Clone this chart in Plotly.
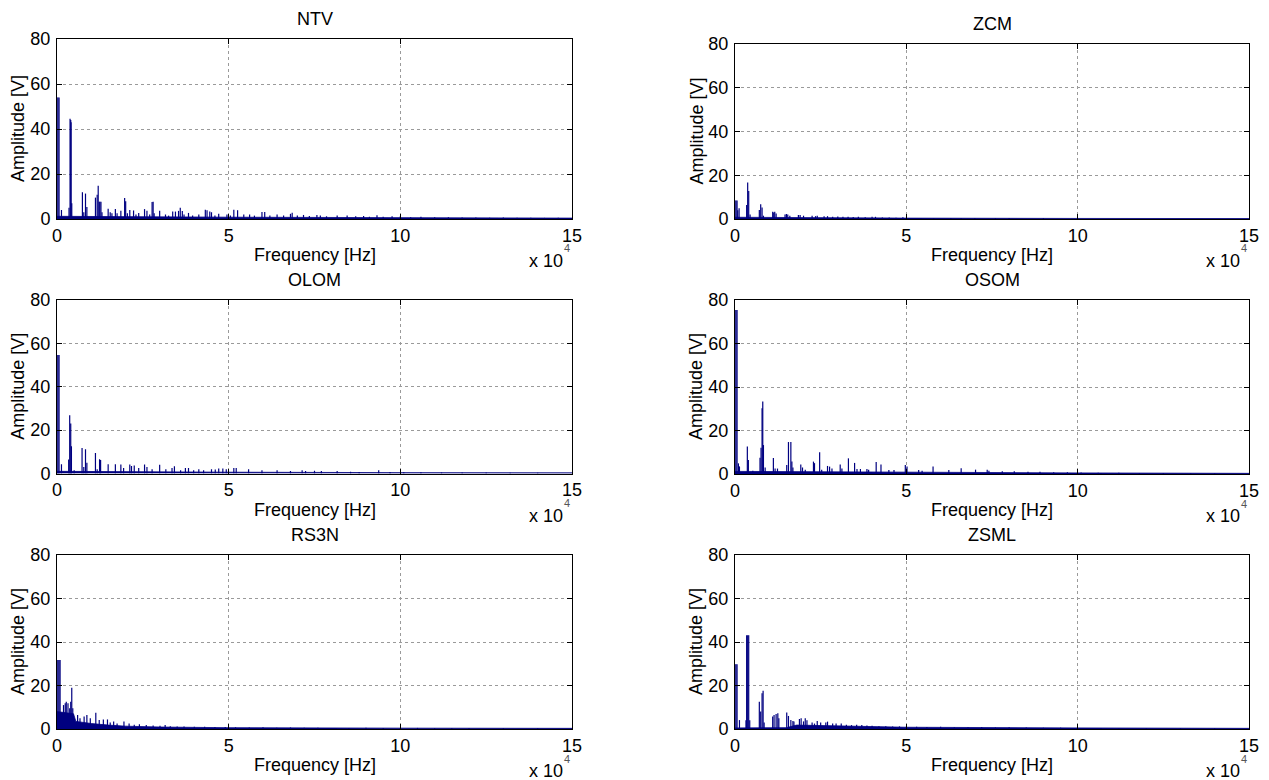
import plotly.graph_objects as go

# ---------------------------------------------------------------------------
# Amplitude spectra of six signals: spectral lines (Hz, V) plus the level of
# the broadband floor under them.
# ---------------------------------------------------------------------------
panel_names = ["NTV", "ZCM", "OLOM", "OSOM", "RS3N", "ZSML"]

ntv_freq = [0, 300, 600, 1300, 3500, 3800, 4000, 4100, 4300, 7400, 7800, 8300, 8700,
            11200, 11700, 12000, 12300, 12500, 12800, 13100, 14900, 15500, 16000, 17000,
            17500, 18600, 19700, 20000, 20500, 21200, 22300, 23000, 23800, 25500, 26200,
            27000, 27700, 28000, 28300, 29900, 31600, 32500, 33700, 34500, 35400, 35900,
            36500, 37000, 38300, 39500, 41300, 43200, 43700, 44500, 45000, 46000, 47100,
            49500, 50500, 51500, 52600, 54400, 56100, 57500, 59700, 60500, 62000, 64100,
            66000, 68000, 68500, 70000, 71800, 73500, 75700, 76700, 78500, 81600, 84500,
            87000, 89300, 91000, 93200, 95000, 97600, 100000, 103000, 106000, 110000,
            114000, 118000, 122000, 126000, 130000, 134000, 138000, 142000, 146000]
ntv_amp = [54, 54, 54, 4, 5, 44.6, 44, 43, 7, 11.9, 3, 11.3, 5.3,
           9.5, 10.8, 14.8, 7.7, 7.7, 7.7, 3, 4.6, 3, 2.5, 4.4,
           2.5, 3.7, 9.3, 7.9, 2.5, 4, 3.8, 2, 2.7, 4.4, 3.7,
           2, 7.6, 7.7, 2.5, 3.7, 2, 1.5, 3.3, 3.3, 3.6, 5.0,
           3.6, 2, 2.7, 1.5, 2, 4.1, 3.9, 3.3, 3, 1.5, 2.3,
           2, 1.5, 4.1, 3.9, 2, 2, 1.5, 3.1, 3.1, 1.5, 2,
           1.5, 2.3, 2.8, 1.5, 1.8, 1.3, 1.8, 1.5, 1.2, 1.5, 1.5,
           1.2, 1.3, 1.0, 1.7, 1.0, 1.2, 1.2, 0.8, 1.0, 0.8,
           0.8, 0.7, 0.7, 0.6, 0.7, 0.6, 0.6, 0.5, 0.6]
ntv_floor_freq = [0, 20000, 50000, 100000, 150000]
ntv_floor_amp = [1.2, 1.0, 0.8, 0.6, 0.4]

zcm_freq = [0, 300, 600, 800, 1200, 3400, 3700, 4000, 4400, 7100, 7500, 7900, 8300,
            11000, 11300, 11600, 12000, 14600, 15000, 15400, 16000, 18500, 19000, 20000,
            22500, 23500, 24000, 26000, 27000, 28500, 30000, 31500, 33000, 34500, 36000,
            38000, 40000, 41000, 43000, 45000, 47000, 49000, 53000, 58000, 63000, 66000,
            70000, 76000, 80000, 90000, 100000]
zcm_amp = [8.5, 8.5, 8.5, 4, 4.9, 6.4, 16.7, 12.8, 2, 4.1, 6.7, 5.2, 1.5,
           3.3, 3.0, 3.3, 2.5, 2.1, 2.3, 2.0, 1.5, 1.8, 1.8, 1.5,
           1.5, 1.3, 1.5, 1.2, 1.3, 1.0, 1.1, 1.0, 1.0, 0.9, 1.0,
           0.8, 1.0, 1.0, 0.7, 0.7, 0.6, 0.8, 0.5, 0.5, 0.5, 0.5,
           0.4, 0.4, 0.4, 0.3, 0.3]
zcm_floor_freq = [0, 20000, 50000, 100000, 150000]
zcm_floor_amp = [0.8, 0.6, 0.4, 0.25, 0.2]

olom_freq = [0, 300, 600, 1300, 3400, 3700, 4000, 4200, 5000, 7300, 7800, 8300, 8700,
             11200, 11700, 12400, 12700, 14900, 17000, 18600, 19400, 21200, 21700, 22500,
             23800, 25500, 26200, 27700, 29900, 31700, 33500, 34200, 36000, 37400, 38300,
             39800, 41300, 42700, 45000, 46100, 47100, 48300, 49300, 51500, 52200, 55800,
             59700, 64100, 68000, 71400, 72400, 75000, 77000, 81600, 85500, 88000, 93700,
             97000, 101000, 106000, 112000, 118000, 125000, 132000, 140000]
olom_amp = [54.6, 54.6, 54.6, 4.3, 6.5, 26.9, 23, 12.6, 1.5, 11.8, 3, 11.2, 4.9,
            9.4, 2, 6.6, 6.2, 4.3, 4.3, 4.2, 2.5, 4.2, 3.5, 3.7,
            2.5, 4.2, 3.0, 2.0, 4.0, 2.0, 2.5, 3.4, 1.5, 2.5, 2.5,
            1.5, 2.0, 1.5, 2.0, 1.8, 2.3, 2.3, 2.0, 2.5, 2.5, 2.0,
            1.5, 1.5, 1.2, 1.5, 1.2, 1.3, 1.2, 1.2, 0.8, 0.7, 1.5,
            0.7, 0.6, 0.6, 0.5, 0.5, 0.5, 0.4, 0.4]
olom_floor_freq = [0, 20000, 50000, 100000, 150000]
olom_floor_amp = [1.0, 0.8, 0.6, 0.4, 0.3]

osom_freq = [0, 300, 600, 1000, 1300, 3600, 3900, 5200, 7300, 7600, 7900, 8100, 8300,
             8800, 11200, 11700, 12400, 15100, 15600, 16300, 16600, 16900, 19200, 19700,
             20500, 22900, 23200, 24700, 25300, 27000, 27600, 28300, 30700, 31200, 33100,
             34900, 35600, 36600, 38500, 39000, 41200, 42600, 44900, 46400, 49700, 50200,
             53600, 54600, 57800, 62400, 66000, 70200, 73600, 74100, 78000, 81500, 85500,
             89000, 93000, 97000, 101000, 106000, 112000, 118000, 125000, 133000, 140000]
osom_amp = [75.4, 75.4, 75.4, 4.9, 3.5, 12.6, 6.4, 1.5, 7.5, 12.1, 30.2, 33.3, 13.3,
            3.0, 7.4, 2.5, 2.5, 4.1, 14.7, 14.7, 5.7, 3.0, 4.4, 3.0,
            2.0, 5.7, 5.0, 10.0, 2.0, 3.7, 3.4, 2.5, 4.4, 2.5, 7.2,
            5.1, 2.3, 2.3, 2.3, 2.0, 5.5, 4.4, 1.8, 1.8, 4.1, 3.4,
            1.8, 1.5, 3.4, 1.8, 2.6, 2.0, 2.0, 1.5, 1.3, 1.3, 1.0,
            1.0, 0.8, 0.8, 0.7, 0.6, 0.6, 0.5, 0.5, 0.4, 0.4]
osom_floor_freq = [0, 20000, 50000, 100000, 150000]
osom_floor_amp = [1.2, 1.0, 0.7, 0.5, 0.3]

rs3n_freq = [0, 300, 600, 900, 1300, 1600, 1900, 2400, 2700, 3200, 3700, 4000, 4300,
             4600, 4900, 6000, 6700, 7900, 8700, 9700, 11300, 12300, 13500, 14700, 15500,
             16500, 17500, 19500, 21000, 22500, 24000, 26000, 28000, 30000, 31500, 33000,
             35000, 37000, 40000, 43000, 46000, 49000, 52000, 56000, 60000, 64000, 68000,
             72000, 76000, 80000, 85000, 90000, 95000, 100000, 105000, 110000, 115000,
             120000, 130000, 140000]
rs3n_amp = [31.7, 31.7, 31.7, 31.7, 6.1, 7.2, 11, 11.8, 12.5, 11.8, 9.5, 12.5, 19,
            9.5, 4.1, 6.4, 4.9, 5.7, 6.4, 4.9, 7.5, 4.1, 4.4, 4.4, 3.0,
            3.4, 2.5, 3.4, 2.5, 2.0, 2.2, 1.8, 1.6, 1.5, 1.8, 1.3,
            1.2, 1.2, 1.0, 1.0, 0.9, 0.9, 0.8, 0.7, 0.8, 0.6, 0.7,
            0.6, 0.6, 0.5, 0.5, 0.6, 0.5, 0.4, 0.5, 0.4, 0.3,
            0.4, 0.3, 0.3]
rs3n_floor_freq = [0, 4800, 5500, 10000, 15000, 20000, 30000, 50000, 100000, 150000]
rs3n_floor_amp = [8, 7, 3.5, 2.5, 1.8, 1.3, 0.9, 0.6, 0.4, 0.3]

zsml_freq = [0, 300, 600, 1300, 3200, 3400, 3700, 4000, 4300, 7100, 7500, 7900, 8200,
             8500, 11000, 11400, 12000, 12500, 12800, 15100, 15600, 16300, 16900, 17200,
             18800, 19300, 20000, 20500, 21000, 22500, 23200, 24000, 25000, 26500, 27000,
             28500, 29500, 31000, 32500, 34000, 35500, 37000, 38500, 40000, 42000, 44000,
             46000, 48000, 50000, 53000, 56000, 60000, 64000, 68000, 72000, 76000, 80000,
             85000, 90000, 95000, 100000, 106000, 112000, 120000, 130000, 140000]
zsml_amp = [29.8, 29.8, 29.8, 4.1, 4, 43.1, 43.1, 43.1, 4, 12.5, 8, 16.4, 17.6,
            3, 5.7, 6.4, 6.9, 7.2, 5, 7.6, 6.0, 4.1, 3.7, 3.4,
            4.6, 4.9, 3.5, 5.0, 4.0, 3.0, 2.5, 3.7, 3.0, 3.0, 3.4,
            2.5, 2.5, 2.5, 2.0, 1.8, 2.0, 1.8, 1.6, 1.5, 1.3, 1.3,
            1.2, 1.2, 1.0, 1.0, 0.9, 1.0, 0.8, 0.8, 0.9, 0.7, 0.8,
            0.7, 0.6, 0.6, 0.5, 0.4, 0.4, 0.4, 0.3, 0.3]
zsml_floor_freq = [0, 15000, 18000, 30000, 50000, 100000, 150000]
zsml_floor_amp = [0.5, 0.6, 1.8, 1.3, 0.8, 0.5, 0.3]

freq_ticks = [0, 50000, 100000, 150000]
freq_tick_text = ["0", "5", "10", "15"]
amp_ticks = [0, 20, 40, 60, 80]

spectra = [
    (ntv_freq, ntv_amp, ntv_floor_freq, ntv_floor_amp),
    (zcm_freq, zcm_amp, zcm_floor_freq, zcm_floor_amp),
    (olom_freq, olom_amp, olom_floor_freq, olom_floor_amp),
    (osom_freq, osom_amp, osom_floor_freq, osom_floor_amp),
    (rs3n_freq, rs3n_amp, rs3n_floor_freq, rs3n_floor_amp),
    (zsml_freq, zsml_amp, zsml_floor_freq, zsml_floor_amp),
]

# ---------------------------------------------------------------------------
# Figure geometry (pixel boxes of the six axes: left, right, top, bottom)
# ---------------------------------------------------------------------------
W, H = 1269, 780
boxes = [
    (57, 572, 39, 219), (735, 1249, 44, 219),
    (57, 572, 300, 473.5), (735, 1249, 300, 474),
    (57, 572, 555, 729), (735, 1249, 555, 729),
]
LINE = "#000080"
FONT = "Liberation Sans, Arial, Helvetica, sans-serif"
FS = 18


def px(x):
    return x / W


def py(y):
    return 1 - y / H


def label(text, x, y, size=FS, angle=0, color="black"):
    return dict(text=text, x=px(x), y=py(y), xref="paper", yref="paper",
                xanchor="center", yanchor="middle", showarrow=False,
                textangle=angle, font=dict(family=FONT, size=size, color=color))


fig = go.Figure()
annotations = []

for i, ((f, a, ff, fa), name, (l, r, t, b)) in enumerate(zip(spectra, panel_names, boxes)):
    n = "" if i == 0 else str(i + 1)
    xa, ya = "x" + n, "y" + n

    # broadband floor
    fig.add_trace(go.Scatter(x=ff, y=fa, mode="lines", fill="tozeroy",
                             fillcolor=LINE, line=dict(color=LINE, width=0.8),
                             xaxis=xa, yaxis=ya, showlegend=False, hoverinfo="skip"))
    # spectral lines as vertical strokes from zero
    sx, sy = [], []
    for fi, ai in zip(f, a):
        sx += [fi, fi, None]
        sy += [0, ai, None]
    fig.add_trace(go.Scatter(x=sx, y=sy, mode="lines",
                             line=dict(color=LINE, width=1.2),
                             xaxis=xa, yaxis=ya, showlegend=False))

    axis_common = dict(showline=True, linecolor="black", linewidth=1, mirror="ticks",
                       ticks="inside", ticklen=5, tickcolor="black", automargin=False,
                       showgrid=True, gridcolor="#9a9a9a", griddash="dot", gridwidth=1,
                       zeroline=False, tickfont=dict(family=FONT, size=FS, color="black"))
    fig.layout["xaxis" + n] = dict(axis_common, domain=[px(l), px(r)], range=[0, 150000],
                                   tickvals=freq_ticks, ticktext=freq_tick_text,
                                   anchor=ya, ticklabelstandoff=0)
    fig.layout["yaxis" + n] = dict(axis_common, domain=[py(b), py(t)], range=[0, 80],
                                   tickvals=amp_ticks, anchor=xa, ticklabelstandoff=2)

    cx = (l + r) / 2
    annotations += [
        label(name, cx, t - 20),
        label("Frequency [Hz]", cx, b + 36),
        label("Amplitude [V]", l - 39, (t + b) / 2, angle=-90),
        label("x 10", r - 26, b + 42),
        label("4", r - 5, b + 29.5, size=11, color="#555555"),
    ]

fig.update_layout(width=W, height=H,
                  margin=dict(l=0, r=0, t=0, b=0, pad=0, autoexpand=False),
                  paper_bgcolor="white", plot_bgcolor="white",
                  annotations=annotations, showlegend=False)

fig.write_html("out.html")
